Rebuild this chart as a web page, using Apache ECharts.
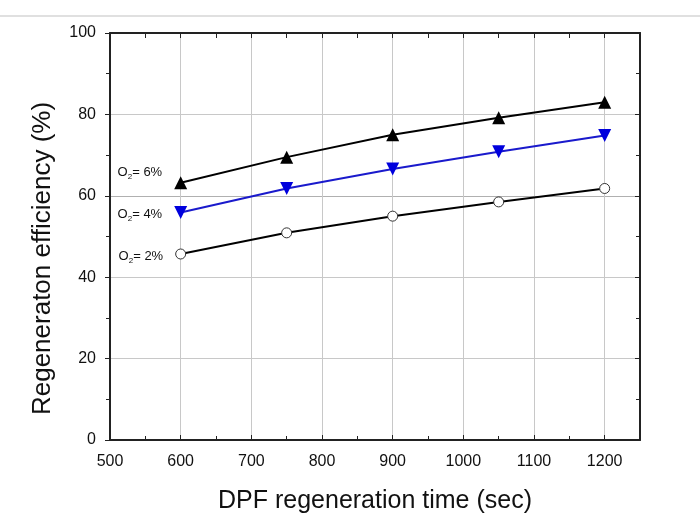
<!DOCTYPE html>
<html><head><meta charset="utf-8">
<script src="https://cdn.jsdelivr.net/npm/echarts@6/dist/echarts.min.js"></script>
<style>html,body{margin:0;padding:0;background:#fff}#c{width:700px;height:532px}</style>
</head><body><div id="c"></div>
<script>
var times = [600, 750, 900, 1050, 1200];
var o2_6 = [63.2, 69.5, 75.0, 79.2, 83.0];
var o2_4 = [55.9, 61.8, 66.6, 70.8, 74.8];
var o2_2 = [45.7, 50.9, 55.0, 58.5, 61.8];
var xTicks = [500, 600, 700, 800, 900, 1000, 1100, 1200];
var yTicks = [0, 20, 40, 60, 80, 100];
var seriesNames = ['O2= 6%', 'O2= 4%', 'O2= 2%'];
var seriesPct = ['6%', '4%', '2%'];

var chart = echarts.init(document.getElementById('c'));
function pairs(v){ return times.map(function(t,i){return [t, v[i]];}); }
function lbl(i, dy){
  return {
    show: true, position: 'left', distance: 12, offset: [0, dy],
    formatter: function(p){ return p.dataIndex === 0 ? '{a|O}{s|2}{a|= ' + seriesPct[i] + '}' : ''; },
    rich: {
      a: {fontFamily: 'Liberation Sans', fontSize: 13, color: '#111'},
      s: {fontFamily: 'Liberation Sans', fontSize: 8, color: '#111', padding: [9, 0, 0, 0]}
    }
  };
}
var font = 'Liberation Sans';
chart.setOption({
  animation: false,
  backgroundColor: '#fff',
  grid: {left: 110, top: 33, width: 530, height: 407, containLabel: false},
  graphic: [{type: 'rect', shape: {x: 0, y: 15, width: 700, height: 2}, style: {fill: '#e0e0e0'}}],
  xAxis: [{
    type: 'value', min: 500, max: 1250, interval: 100,
    name: 'DPF regeneration time (sec)', nameLocation: 'middle', nameGap: 49,
    nameTextStyle: {fontFamily: font, fontSize: 25, color: '#111'},
    axisLine: {show: true, onZero: false, lineStyle: {color: '#222', width: 2}},
    axisTick: {show: true, inside: true, length: 5, lineStyle: {color: '#222'}},
    minorTick: {show: true, splitNumber: 2, length: 4, lineStyle: {color: '#222'}},
    axisLabel: {fontFamily: font, fontSize: 16, color: '#111', margin: 14,
      formatter: function(v){ return xTicks.indexOf(v) >= 0 ? String(v) : ''; }, showMaxLabel: false},
    splitLine: {show: true, lineStyle: {color: '#c8c8c8', width: 1}}
  }, {
    type: 'value', min: 500, max: 1250, interval: 100, position: 'top',
    axisLine: {show: true, onZero: false, lineStyle: {color: '#222', width: 2}},
    axisTick: {show: true, inside: true, length: 5, lineStyle: {color: '#222'}},
    minorTick: {show: true, splitNumber: 2, length: 5, lineStyle: {color: '#222'}},
    axisLabel: {show: false}, splitLine: {show: false}
  }],
  yAxis: [{
    type: 'value', min: 0, max: 100, interval: 20,
    name: 'Regeneraton efficiency (%)', nameLocation: 'middle', nameGap: 54, nameRotate: 90,
    nameTextStyle: {fontFamily: font, fontSize: 26, color: '#111', padding: [0, 44, 0, 0]},
    axisLine: {show: true, onZero: false, lineStyle: {color: '#222', width: 2}},
    axisTick: {show: true, inside: false, length: 5, lineStyle: {color: '#222'}},
    minorTick: {show: true, splitNumber: 2, length: 4, lineStyle: {color: '#222'}},
    axisLabel: {fontFamily: font, fontSize: 16, color: '#111', margin: 14,
      formatter: function(v){ return yTicks.indexOf(v) >= 0 ? String(v) : ''; }},
    splitLine: {show: true, lineStyle: {color: ['#c8c8c8', '#c8c8c8', '#c8c8c8', '#b0b0b0', '#c8c8c8', '#c8c8c8'], width: 1}}
  }, {
    type: 'value', min: 0, max: 100, interval: 20, position: 'right',
    axisLine: {show: true, onZero: false, lineStyle: {color: '#222', width: 2}},
    axisTick: {show: true, inside: true, length: 5, lineStyle: {color: '#222'}},
    minorTick: {show: true, splitNumber: 2, length: 4, lineStyle: {color: '#222'}},
    axisLabel: {show: false}, splitLine: {show: false}
  }],
  series: [{
    name: seriesNames[0], type: 'line', data: pairs(o2_6),
    symbol: 'triangle', symbolSize: 13,
    lineStyle: {color: '#000', width: 2}, itemStyle: {color: '#000'},
    label: lbl(0, -10)
  }, {
    name: seriesNames[1], type: 'line', data: pairs(o2_4),
    symbol: 'triangle', symbolRotate: 180, symbolSize: 13,
    lineStyle: {color: '#1a1acc', width: 2}, itemStyle: {color: '#0000dd'},
    label: lbl(1, 2)
  }, {
    name: seriesNames[2], type: 'line', data: pairs(o2_2),
    symbol: 'circle', symbolSize: 10,
    lineStyle: {color: '#000', width: 2}, itemStyle: {color: '#fff', borderColor: '#333', borderWidth: 1},
    label: lbl(2, 2)
  }]
});
</script></body></html>
